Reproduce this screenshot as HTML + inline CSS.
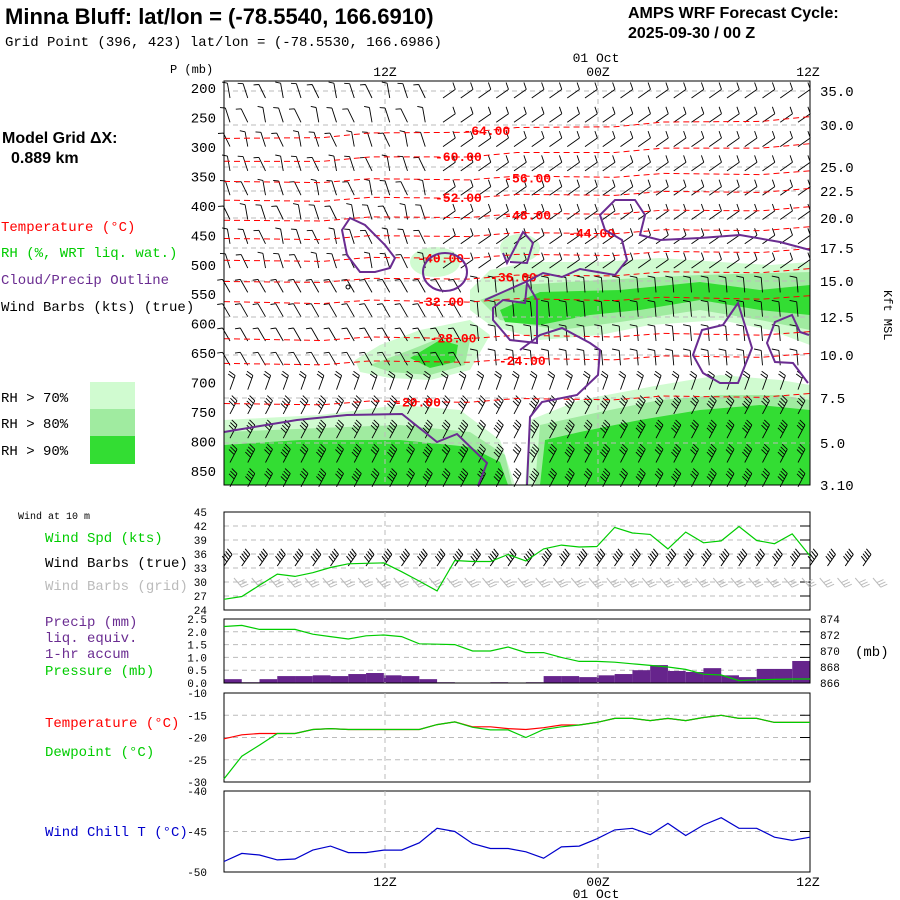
<!DOCTYPE html>
<html><head><meta charset="utf-8"><style>
body{margin:0;background:#fff}
svg{display:block}
text{font-family:"Liberation Mono",monospace}
.b{font-family:"Liberation Sans",sans-serif;font-weight:bold}
</style></head><body>
<svg id="s" width="900" height="900" viewBox="0 0 900 900" xmlns="http://www.w3.org/2000/svg">
<rect width="900" height="900" fill="#fff"/>
<text class="b" x="5" y="24" font-size="22">Minna Bluff:  lat/lon = (-78.5540, 166.6910)</text>
<text x="5" y="46" font-size="14">Grid Point (396, 423) lat/lon = (-78.5530, 166.6986)</text>
<text class="b" x="628" y="18" font-size="16">AMPS WRF Forecast Cycle:</text>
<text class="b" x="628" y="38" font-size="16">2025-09-30 / 00  Z</text>
<text class="b" x="2" y="143" font-size="16">Model Grid ΔX:</text>
<text class="b" x="11" y="163" font-size="16">0.889 km</text>
<g font-size="14">
<text x="1" y="231" fill="#f00">Temperature (°C)</text>
<text x="1" y="257" fill="#0c0">RH (%, WRT liq. wat.)</text>
<text x="1" y="284" fill="#6a2c91">Cloud/Precip Outline</text>
<text x="1" y="311" fill="#000">Wind Barbs (kts) (true)</text>
<text x="1" y="402">RH &gt; 70%</text><rect x="90" y="382" width="45" height="27" fill="#d0fbd0"/>
<text x="1" y="428">RH &gt; 80%</text><rect x="90" y="409" width="45" height="27" fill="#a0eba0"/>
<text x="1" y="455">RH &gt; 90%</text><rect x="90" y="436" width="45" height="28" fill="#33dd33"/>
</g>
<g id="xs">
<g>
<path fill="#d0fbd0" d="M224,420 L320,415 L400,405 L460,410 L500,440 L515,485 L224,485Z M525,485 L530,420 L580,400 L660,385 L720,375 L780,380 L810,385 L810,485Z M470,290 L490,270 L530,262 L600,262 L660,258 L720,262 L770,265 L810,262 L810,345 L770,330 L720,320 L650,325 L600,335 L540,340 L490,325 L470,310Z M355,360 L380,345 L420,330 L470,320 L490,335 L470,370 L430,380 L390,378 L360,372Z"/>
<ellipse cx="435" cy="262" rx="25" ry="15" fill="#d0fbd0"/><ellipse cx="520" cy="248" rx="20" ry="14" fill="#d0fbd0"/>
<path fill="#a0eba0" d="M224,432 L320,428 L400,425 L470,432 L505,455 L512,485 L224,485Z M535,485 L540,425 L600,412 L660,400 L720,395 L780,395 L810,400 L810,485Z M480,300 L520,285 L600,280 L700,275 L810,272 L810,330 L760,320 L700,310 L620,322 L560,330 L500,320Z M370,365 L410,350 L440,338 L470,340 L465,365 L430,375 L390,372Z"/>
<path fill="#33dd33" d="M224,445 L300,440 L400,440 L470,447 L500,462 L508,485 L224,485Z M540,485 L545,440 L580,432 L640,420 L700,410 L760,405 L810,410 L810,485Z M500,310 L540,292 L620,290 L700,282 L760,290 L810,285 L810,315 L760,310 L700,300 L640,310 L590,315 L540,325 L505,322Z M410,358 L440,340 L458,345 L455,362 L430,368Z"/>
</g>
<g id="hgrid" stroke="#bbb" stroke-dasharray="5,4"></g>
<line x1="385" y1="81" x2="385" y2="485" stroke="#bbb" stroke-dasharray="5,4"/>
<line x1="598" y1="81" x2="598" y2="485" stroke="#bbb" stroke-dasharray="5,4"/>
<g id="barbs" stroke="#000" stroke-width="0.9" fill="none"></g>
<g id="tc" stroke="#f00" stroke-dasharray="6,4" fill="none"></g>
<g id="tl" fill="#f00" font-family="Liberation Sans" font-weight="bold" font-size="13"></g>
<g stroke="#6a2c91" stroke-width="2" fill="none">
<path d="M342,230 L350,218 L365,225 L385,245 L395,258 L390,268 L375,272 L360,272 L347,255Z"/>
<ellipse cx="445" cy="272" rx="22" ry="19"/>
<path d="M224,432 L260,426 L297,420 L347,415 L402,414 L437,442 L457,434 L487,463 L478,486"/>
<path d="M527,485 L530,417 L542,402 L577,395 L598,375 L600,350 L590,343 L562,328 L540,335 L520,350"/>
<path d="M485,300 L530,280 L543,273 L562,277 L580,269 L615,275 L627,260 L622,240 L605,230 L600,215 L615,200 L635,200 L645,215 L640,235 L660,240 L700,238 L740,235 L780,242 L810,250"/>
<path d="M693,355 L702,330 L723,325 L738,303 L752,348 L738,383 L720,383 L703,373Z"/>
<path d="M808,383 L793,363 L775,362 L767,343 L775,322 L792,315 L800,332 L809,335"/>
<path d="M503,253 L507,263 L523,232 L533,243 L527,263 L510,262"/>
<path d="M493,308 L503,300 L525,303 L527,283 L537,300 L537,343 L510,340 L493,320Z"/>
</g>
<circle cx="348" cy="287" r="2" stroke="#000" fill="none"/>
<rect x="224" y="81" width="586" height="404" fill="none" stroke="#000"/>
</g>
<g id="pax" font-size="14" text-anchor="end"></g>
<g id="hax" font-size="14"></g>
<text x="170" y="73" font-size="12">P (mb)</text>
<text x="0" y="0" font-size="12" transform="translate(884,290) rotate(90)">Kft MSL</text>
<g font-size="13" text-anchor="middle">
<text x="385" y="76">12Z</text><text x="598" y="76">00Z</text><text x="808" y="76">12Z</text><text x="596" y="62">01 Oct</text>
</g>
<g font-size="14">
<text x="18" y="519" font-size="10">Wind at 10 m</text>
<text x="45" y="542" fill="#0c0">Wind Spd (kts)</text>
<text x="45" y="567">Wind Barbs (true)</text>
<text x="45" y="590" fill="#bbb">Wind Barbs (grid)</text>
<text x="45" y="626" fill="#6a2c91">Precip (mm)</text>
<text x="45" y="642" fill="#6a2c91">liq. equiv.</text>
<text x="45" y="658" fill="#6a2c91">1-hr accum</text>
<text x="45" y="675" fill="#0c0">Pressure (mb)</text>
<text x="45" y="727" fill="#f00">Temperature (°C)</text>
<text x="45" y="756" fill="#0c0">Dewpoint (°C)</text>
<text x="45" y="836" fill="#00c">Wind Chill T (°C)</text>
<text x="855" y="656">(mb)</text>
</g>
<g id="panels"></g>
<g font-size="13" text-anchor="middle">
<text x="385" y="886">12Z</text><text x="598" y="886">00Z</text><text x="808" y="886">12Z</text><text x="596" y="898">01 Oct</text>
</g>
</svg>
<script>
const NS="http://www.w3.org/2000/svg";
// ---- data ----
const hours=[0,1,2,3,4,5,6,7,8,9,10,11,12,13,14,15,16,17,18,19,20,21,22,23,24,25,26,27,28,29,30,31,32,33];
const windSpd=[26.3,26.9,29.3,31.7,31.2,32.0,33.1,33.9,34.0,34.1,32.2,30.2,28.1,34.6,34.4,34.4,35.9,34.5,37.1,37.9,37.5,37.6,41.7,40.5,40.2,37.1,40.7,38.4,38.8,41.9,38.9,38.2,40.3,35.6];
const pressure=[873.06,873.2,872.7,872.7,872.7,872.1,871.8,871.5,871.9,872.0,871.8,870.9,870.85,870.8,870.0,870.0,870.5,869.8,869.8,869.2,868.7,868.7,868.6,868.4,868.2,868.0,867.7,867.1,867.0,866.3,866.4,866.45,866.5,866.5];
const precip=[0.15,0.03,0.15,0.27,0.27,0.3,0.27,0.35,0.39,0.3,0.27,0.15,0.03,0,0,0.03,0,0.03,0.27,0.27,0.23,0.3,0.35,0.5,0.7,0.47,0.43,0.58,0.3,0.23,0.55,0.55,0.86];
const temp=[-20.3,-19.4,-19.1,-19.1,-19.1,-18.2,-18.0,-18.2,-18.2,-18.2,-18.2,-18.2,-17.1,-16.5,-17.6,-17.6,-18.0,-18.2,-17.8,-17.2,-17.2,-16.6,-15.7,-15.7,-16.2,-15.7,-16.2,-15.5,-15.0,-15.7,-15.7,-16.6,-16.6,-16.6];
const dewpt=[-29.3,-24.2,-21.7,-19.1,-19.1,-18.2,-18.0,-18.2,-18.2,-18.2,-18.2,-18.2,-17.1,-16.5,-17.7,-18.3,-18.3,-20.0,-18.2,-17.6,-17.2,-16.6,-15.7,-15.7,-16.2,-15.7,-16.2,-15.5,-15.0,-15.7,-15.7,-16.6,-16.6,-16.6];
const windChill=[-48.7,-47.7,-47.9,-48.5,-48.4,-47.3,-46.8,-47.6,-47.6,-47.3,-47.3,-46.4,-44.6,-45.0,-46.5,-47.1,-47.1,-47.5,-48.3,-46.9,-46.8,-45.9,-44.8,-44.6,-45.4,-44.0,-45.5,-44.2,-43.3,-44.6,-44.6,-45.7,-46.1,-45.7];
const windTicks=[24,27,30,33,36,39,42,45];
const precipTicks=["0.0","0.5","1.0","1.5","2.0","2.5"];
const presTicks=[866,868,870,872,874];
const tempTicks=[-30,-25,-20,-15,-10];
const chillTicks=[-50,-45,-40];
const pLevels=[200,250,300,350,400,450,500,550,600,650,700,750,800,850];
const hLabels=["35.0","30.0","25.0","22.5","20.0","17.5","15.0","12.5","10.0","7.5","5.0","3.10"];
const hYs=[91,125,167,191,218,248,281,317,355,398,443,485];
const tcLabels=["-64.00","-60.00","-56.00","-52.00","-48.00","-44.00","-40.00","-36.00","-32.00","-28.00","-24.00","-20.00"];
const tcLabelHour=[14.8,13.2,17.1,13.2,17.1,20.7,12.2,16.3,12.2,12.9,16.8,10.9];
const tcLeftP=[288,327,361,393,427,458,495,531,565,628,670,738];
const tcRightP=[251,297,343,373,404,438,475,509,555,616,653,721];
// ---- scales ----
const X0=224,X1=810,T1=33;
const xs=h=>X0+(X1-X0)*h/T1;
const py=p=>88+(p-200)*(471-88)/650;
function lin(v,d0,d1,r0,r1){return r0+(v-d0)*(r1-r0)/(d1-d0);}
function el(tag,attrs,parent){const e=document.createElementNS(NS,tag);for(const k in attrs)e.setAttribute(k,attrs[k]);parent.appendChild(e);return e;}
const pax=document.getElementById('pax');
pLevels.forEach(p=>{const t=el('text',{x:216,y:py(p)+5},pax);t.textContent=p;

});
const hax=document.getElementById('hax'),hg=document.getElementById('hgrid');
hLabels.forEach((l,i)=>{const t=el('text',{x:820,y:hYs[i]+5},hax);t.textContent=l;


if(i<hLabels.length-1){el('line',{x1:224,x2:810,y1:hYs[i],y2:hYs[i]},hg);}});
const tc=document.getElementById('tc'),tl=document.getElementById('tl');
tcLabels.forEach((lab,i)=>{
 const yl=py(tcLeftP[i]),yr=py(tcRightP[i]);
 let d='';for(let k=0;k<=12;k++){const x=X0+(X1-X0)*k/12;const y=yl+(yr-yl)*k/12+((k%3)-1)*1.5;d+=(k?'L':'M')+x.toFixed(1)+','+y.toFixed(1);}
 const pth=el('path',{d:d},tc);
 
 
 const lx=xs(tcLabelHour[i]);const ly=yl+(yr-yl)*(lx-X0)/(X1-X0);
 const t=el('text',{x:lx,y:ly+5,'text-anchor':'middle'},tl);t.textContent=lab;
 
 
});
function barb(g,x,y,ang,n,len,bl){bl=bl||7;const a=ang*Math.PI/180;const ux=Math.cos(a),uy=-Math.sin(a);
 const ex=x+ux*len,ey=y+uy*len;let d=`M${x},${y}L${ex.toFixed(1)},${ey.toFixed(1)}`;
 const px=uy,pyy=-ux;
 for(let k=0;k<n;k++){const bx=ex-ux*k*3,by=ey-uy*k*3;d+=`M${bx.toFixed(1)},${by.toFixed(1)}l${(px*bl+ux*2).toFixed(1)},${(pyy*bl+uy*2).toFixed(1)}`;}
 return el('path',{d:d},g);}
const bg=document.getElementById('barbs');
for(let r=0;r<17;r++){const y=92+r*24.3;for(let c=0;c<33;c++){const x=230+c*17.75;
 let ang,n,bl=7;
 if(y>405){ang=62;n=3+(c%2);}
 else if(y>375){ang=70;n=2;}
 else if(y<265&&x<430){ang=100+((c+r)%3)*8;n=1;bl=5;}
 else if(y<265){ang=35;n=1;}
 else if(x<470){ang=120;n=1;bl=5;}
 else {ang=95;n=1;}
 const p=barb(bg,x,y+6,ang,n,15,bl);
 
 
}}
const pg=document.getElementById('panels');
function frame(y0,y1,name){const r=el('rect',{x:X0,y:y0,width:X1-X0,height:y1-y0,fill:'none',stroke:'#000'},pg);
 
 
 [385,598].forEach(x=>el('line',{x1:x,x2:x,y1:y0,y2:y1,stroke:'#bbb','stroke-dasharray':'5,4'},pg));}
function hgridline(y){el('line',{x1:X0,x2:X1,y1:y,y2:y,stroke:'#bbb','stroke-dasharray':'5,4'},pg);
 el('line',{x1:X1-10,x2:X1,y1:y,y2:y,stroke:'#000'},pg);}
function label(x,y,txt,anchor){const t=el('text',{x:x,y:y+4,'font-size':11,'text-anchor':anchor},pg);t.textContent=txt;
 
 }
function line(vals,yf,color,name){const d=vals.map((v,i)=>(i?'L':'M')+xs(hours[i]).toFixed(1)+','+yf(v).toFixed(1)).join('');
 const p=el('path',{d:d,fill:'none',stroke:color,'stroke-width':1.2},pg);
 
 }
const wy=v=>lin(v,24,45,610,512);
windTicks.forEach(v=>{if(v>24&&v<45)hgridline(wy(v));label(207,wy(v),v,'end');});
frame(512,610,'wind-panel-frame');
for(let c=0;c<37;c++){const x=228+c*17.75;
 const b=barb(pg,x-4,566,55,4,14);b.setAttribute('stroke','#000');b.setAttribute('fill','none');
 
 
 const g=barb(pg,x+6,578,-50,3,12);g.setAttribute('stroke','#bbb');g.setAttribute('fill','none');
 
 }
line(windSpd,wy,'#0c0','wind-speed-line');
const prY=v=>lin(v,0,2.5,683,619), psY=v=>lin(v,866,874,683,619);
precipTicks.forEach(v=>{const y=prY(+v);if(+v>0&&+v<2.5)hgridline(y);label(207,y,v,'end');});
presTicks.forEach(v=>label(820,psY(v),v,'start'));
precip.forEach((v,i)=>{const r=el('rect',{x:xs(i),y:prY(v),width:xs(i+1)-xs(i),height:683-prY(v),fill:'#66248c'},pg);
 
 });
frame(619,683,'precip-panel-frame');
line(pressure,psY,'#0c0','pressure-line');
const ty=v=>lin(v,-30,-10,782,693);
tempTicks.forEach(v=>{if(v>-30&&v<-10)hgridline(ty(v));label(207,ty(v),v,'end');});
frame(693,782,'temperature-panel-frame');
line(temp,ty,'#f00','temperature-line');
line(dewpt,ty,'#0c0','dewpoint-line');
const cy=v=>lin(v,-50,-40,872,791);
chillTicks.forEach(v=>{if(v===-45)hgridline(cy(v));label(207,cy(v),v,'end');});
frame(791,872,'wind-chill-panel-frame');
line(windChill,cy,'#00c','wind-chill-line');
</script>
</body></html>
